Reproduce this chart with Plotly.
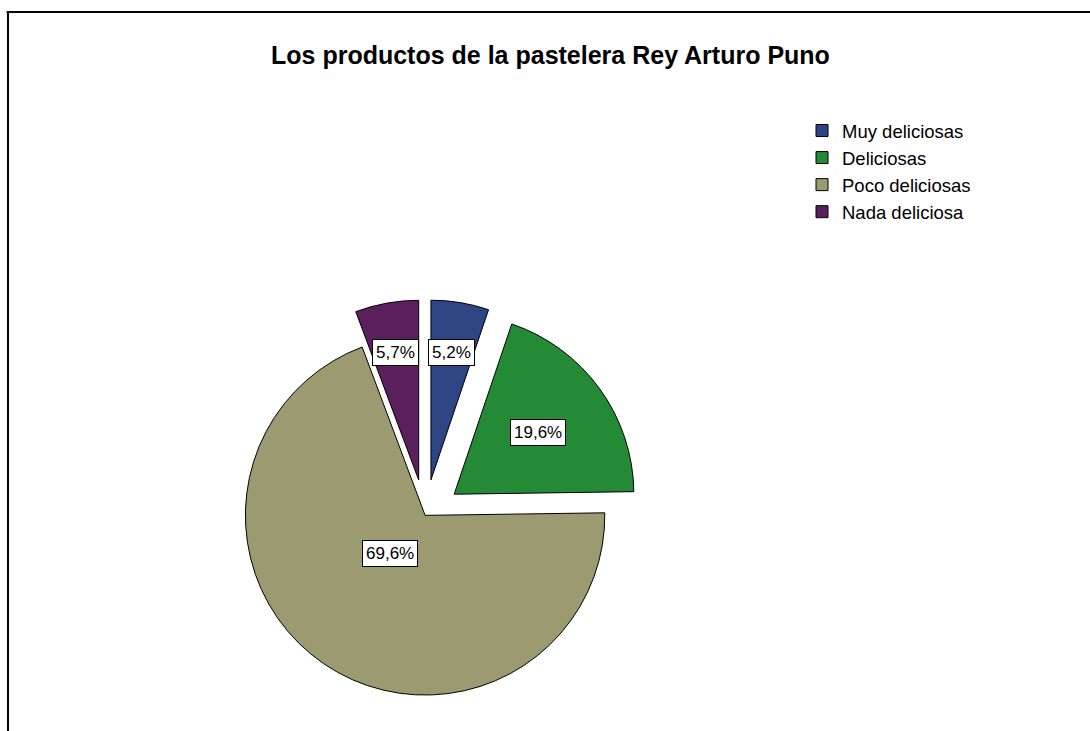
import math
import plotly.graph_objects as go

# ---- data ----
categories = ["Muy deliciosas", "Deliciosas", "Poco deliciosas", "Nada deliciosa"]
percentages = [5.2, 19.6, 69.6, 5.7]
slice_colors = ["#2E4584", "#248A36", "#9C9A70", "#5B1F5E"]
pulls = [0.2, 0.2, 0.0, 0.2]
title_text = "Los productos de la pastelera Rey Arturo Puno"

labels_txt = [f"{v:.1f}%".replace(".", ",") for v in percentages]

W, H = 1090, 731
dom_x = [0.10, 0.68]
dom_y = [0.0, 0.59]

fig = go.Figure()
fig.add_trace(go.Pie(
    labels=categories,
    values=percentages,
    sort=False,
    direction="clockwise",
    rotation=0,
    pull=pulls,
    textinfo="none",
    hoverinfo="label+percent",
    marker=dict(colors=slice_colors, line=dict(color="#000000", width=1)),
    domain=dict(x=dom_x, y=dom_y),
))

# label positions derived from the pie geometry
cx = (dom_x[0] + dom_x[1]) / 2 * W
cy = (1 - (dom_y[0] + dom_y[1]) / 2) * H
r = min(W * (dom_x[1] - dom_x[0]), H * (dom_y[1] - dom_y[0])) / (2 + 2 * max(pulls))
frac = [0.72, 0.58, 0.35, 0.72]
total = sum(percentages)
start = 0.0
annotations = []
for i, v in enumerate(percentages):
    span = v / total * 360
    mid = math.radians(start + span / 2)
    d = (pulls[i] + frac[i]) * r
    px = cx + d * math.sin(mid)
    py = cy - d * math.cos(mid)
    annotations.append(dict(
        x=px / W, y=1 - py / H, xref="paper", yref="paper",
        text=labels_txt[i], showarrow=False,
        font=dict(family="Liberation Sans, Arial", size=17, color="#000000"),
        bgcolor="#FFFFFF", bordercolor="#000000", borderwidth=1, borderpad=3,
    ))
    start += span

fig.update_layout(
    width=W, height=H,
    margin=dict(l=0, r=0, t=0, b=0),
    paper_bgcolor="#FFFFFF",
    plot_bgcolor="#FFFFFF",
    title=dict(text="<b>" + title_text + "</b>", x=0.505, xanchor="center",
               y=1 - 55 / H, yanchor="middle",
               font=dict(family="Liberation Sans, Arial", size=25, color="#000000")),
    legend=dict(x=802 / W, y=1 - 112 / H, xanchor="left", yanchor="top",
                font=dict(family="Liberation Sans, Arial", size=18.5, color="#000000"),
                bgcolor="rgba(0,0,0,0)", itemwidth=30, traceorder="normal"),
    annotations=annotations,
    shapes=[
        dict(type="line", xref="paper", yref="paper", x0=0.006, x1=1.0,
             y0=1 - 12 / H, y1=1 - 12 / H, line=dict(color="#000000", width=2)),
        dict(type="line", xref="paper", yref="paper", x0=8 / W, x1=8 / W,
             y0=0.0, y1=1 - 12 / H, line=dict(color="#000000", width=2)),
    ],
)

fig.write_html("out.html")
